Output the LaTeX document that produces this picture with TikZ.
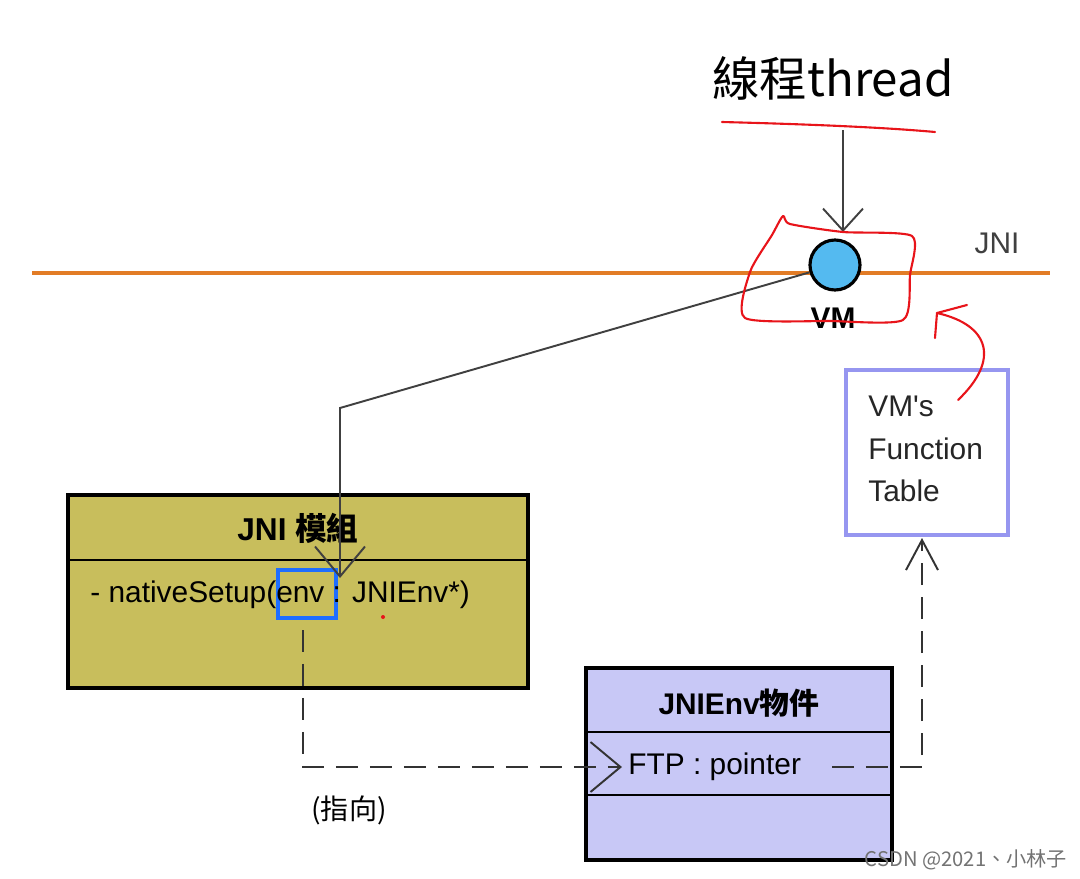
\documentclass[tikz,border=0pt]{standalone}
\usepackage{fontspec}
\setmainfont{Liberation Sans}
\newfontfamily\cjk{Noto Sans CJK TC}
\usetikzlibrary{arrows.meta,positioning,calc}
\definecolor{jnibar}{RGB}{226,124,38}
\definecolor{vmblue}{RGB}{84,186,240}
\definecolor{olive}{RGB}{200,190,92}
\definecolor{lav}{RGB}{200,200,246}
\definecolor{tblborder}{RGB}{150,150,240}
\definecolor{envblue}{RGB}{30,110,255}
\definecolor{pen}{RGB}{232,20,26}
\definecolor{wire}{RGB}{64,64,64}
\newcommand{\fsz}[1]{\fontsize{#1pt}{1.25\dimexpr#1pt\relax}\selectfont}
\tikzset{
  lbl/.style    = { inner sep=0pt, font=\fsz{17} },
  umlbox/.style = { draw, line width=2.2pt, inner sep=0pt },
  vmloc/.style  = { draw, circle, line width=1.8pt, fill=vmblue, minimum size=1cm, inner sep=0pt },
  redpen/.style = { draw=pen, line width=1.2pt, line cap=round, line join=round },
  wireln/.style = { draw=wire, line width=1.1pt },
  dashln/.style = { draw=black!80, line width=1.1pt, dash pattern=on 4.4mm off 2.4mm },
}
\begin{document}
\begin{tikzpicture}[x=0.02cm, y=-0.02cm]
    \useasboundingbox (0,0) rectangle (1080,879);

    % boxes
    \node[umlbox, fill=olive, minimum width=9.2cm, minimum height=3.86cm] (jni) at (298,591.5) {};
    \draw[line width=1.6pt] (68,560) -- (528,560);
    \node[lbl, font=\fsz{18}\bfseries] (jnititle) at (298,528) {JNI {\cjk 模組}};
    \node[draw=envblue, line width=2pt, minimum width=1.16cm, minimum height=0.96cm] (env) at (307,594) {};
    \node[lbl, anchor=west] (setup) at (90,595) {- nativeSetup(env : JNIEnv*)};
    \fill[pen] (383,617) circle (2);

    \node[umlbox, fill=lav, minimum width=6.12cm, minimum height=3.84cm] (jnienv) at (739,764) {};
    \draw[line width=1.4pt] (586,732) -- (892,732);
    \draw[line width=1.4pt] (586,795) -- (892,795);
    \node[lbl, font=\fsz{17}\bfseries] (envtitle) at (739,703) {JNIEnv{\cjk 物件}};
    \node[lbl, anchor=west] (ftp) at (628,767) {FTP : pointer};

    \node[draw=tblborder, line width=1.8pt, fill=white, minimum width=3.24cm, minimum height=3.3cm] (fntbl) at (927,452.5) {};
    \node[lbl, anchor=north west, align=left, text=black!85,
      font=\fontsize{17pt}{24pt}\selectfont] (fntxt) at (868,396) {VM\textquotesingle s\\Function\\Table};

    % JNI layer
    \draw[jnibar, line width=2.3pt] (32,273) -- (1050,273);
    \node[vmloc] (vm) at (835,265) {};
    \node[lbl, font=\fsz{17}\bfseries] (vmlbl) at (833,318) {VM};
    \node[lbl, text=black!75] (jnilbl) at (997,243) {JNI};
    \node[lbl, font=\cjk\fsz{27}] (thr) at (833,78) {線程thread};

    % connectors
    \coordinate (thrfoot) at (843,130);
    \coordinate (thrtip) at (843,232);
    \coordinate (bend) at (340,408);
    \coordinate (envtip) at (340,578);
    \coordinate (envout) at (303,630);
    \coordinate (turn1) at (303,767);
    \coordinate (ftptip) at (622,767);
    \coordinate (ftpout) at (832,767);
    \coordinate (turn2) at (922,767);
    \coordinate (tbltip) at (922,538);

    \draw[wireln, -{Straight Barb[length=4.4mm,width=8mm]}] (thrfoot) -- (thrtip);
    \draw[wireln, -{Straight Barb[length=6mm,width=10mm]}] (vm) -- (bend) -- (envtip);
    \draw[dashln, -{Straight Barb[length=6mm,width=10mm]}] (envout) -- (turn1) -- (ftptip);
    \draw[dashln, -{Straight Barb[length=6mm,width=6.4mm]}] (ftpout) -- (turn2) -- (tbltip);
    \node[lbl, font=\cjk\fsz{16}] (zhixiang) at (349,810) {(指向)};

    % red pen marks
    \draw[redpen] (722,122) .. controls (800,124) and (880,127) .. (935,132);
    \draw[redpen] plot[smooth cycle, tension=0.4] coordinates
      {(783,216) (790,224) (843,232) (912,236) (910,275) (903,320) (830,321) (745,318) (750,272) (772,235)};
    \draw[redpen] (958,400) .. controls (1000,360) and (990,325) .. (937,313);
    \draw[redpen] (935,338) -- (937,313) -- (967,305);

    % watermark
    \node[lbl, font=\cjk\fsz{11.5}, text=black!55] (mark) at (966,860) {CSDN @2021、小林子};
\end{tikzpicture}
\end{document}
